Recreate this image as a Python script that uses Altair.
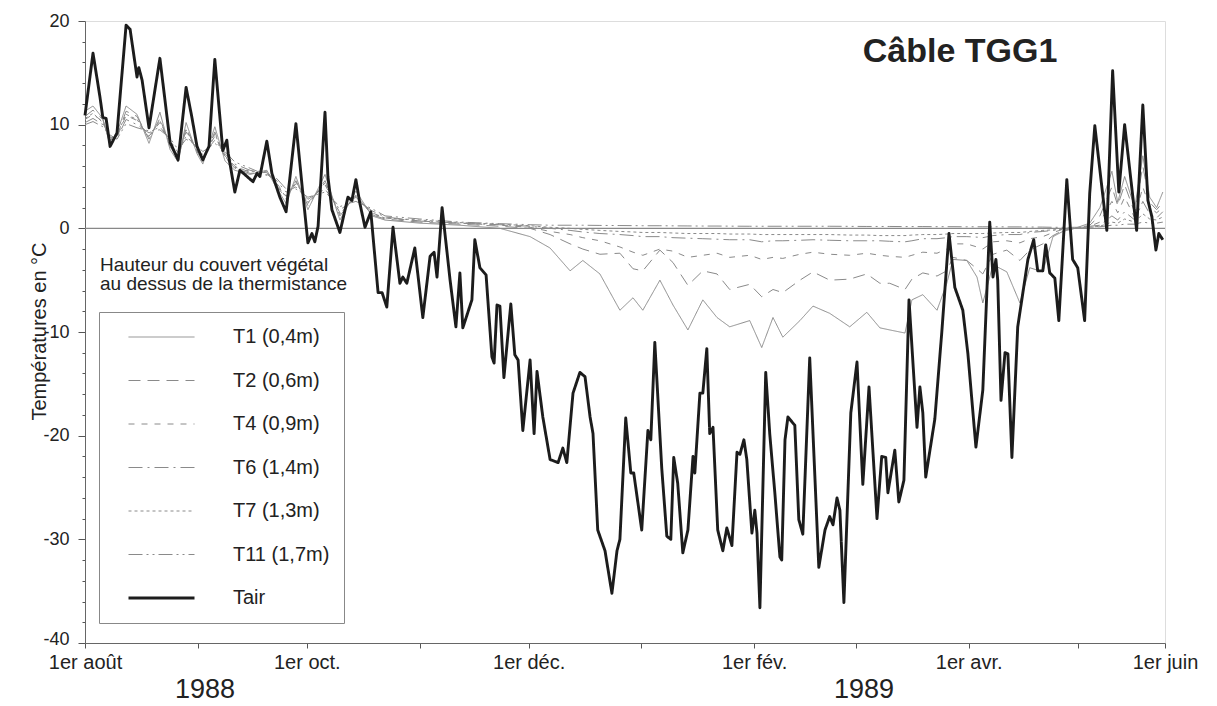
import altair as alt
import pandas as pd

FONT = "Liberation Sans, Arial, Helvetica, sans-serif"

series_names = ["T1 (0,4m)", "T2 (0,6m)", "T4 (0,9m)", "T6 (1,4m)", "T7 (1,3m)", "T11 (1,7m)", "Tair"]

# ---- Tair (days since 1 Aug 1988, deg C) ----
tair_days = [0.0, 2.2, 4.1, 4.9, 5.8, 6.9, 8.8, 11.3, 12.4, 14.3, 14.8, 15.7, 17.6, 20.6, 23.4, 25.6, 27.8,
             29.4, 30.8, 32.4, 34.1, 35.7, 37.9, 39.0, 39.4, 41.2, 42.6, 46.2, 47.3, 48.1, 50.0, 51.4, 53.6,
             55.3, 58.0, 59.9, 61.3, 62.4, 63.2, 64.1, 66.0, 66.8, 67.9, 70.1, 72.3, 73.4, 74.5, 75.6, 77.0,
             78.6, 80.6, 81.7, 83.0, 84.7, 86.6, 87.4, 88.5, 90.7, 92.9, 94.9, 96.0, 96.8, 98.2, 100.4, 102.0,
             103.1, 103.9, 106.4, 107.2, 108.6, 110.3, 111.9, 112.5, 113.3, 114.1, 115.2, 117.1, 118.2, 119.1,
             120.4, 122.4, 123.5, 124.3, 125.9, 127.9, 130.1, 131.4, 132.5, 134.2, 136.1, 137.5, 138.9, 139.7,
             141.0, 143.0, 144.9, 146.3, 147.1, 148.7, 150.1, 150.9, 153.1, 154.8, 155.6, 156.7, 158.6, 160.0,
             161.1, 161.9, 163.0, 164.4, 165.8, 167.2, 167.7, 169.1, 169.9, 171.0, 171.8, 172.7, 174.0, 175.4,
             176.5, 177.9, 179.3, 180.1, 181.2, 182.0, 183.4, 184.2, 184.8, 185.6, 187.2, 188.3, 189.7, 191.1,
             191.6, 192.5, 193.3, 195.2, 196.3, 197.4, 199.3, 201.8, 203.5, 204.8, 205.7, 206.8, 207.6, 208.7,
             210.6, 212.3, 213.9, 215.6, 217.8, 219.1, 220.2, 220.8, 222.7, 223.8, 225.2, 226.6, 228.8, 229.6,
             230.4, 231.2, 233.7, 235.6, 237.6, 239.2, 241.4, 242.8, 245.0, 246.9, 248.8, 249.7, 250.5, 251.0,
             251.9, 253.0, 253.8, 254.9, 256.5, 259.3, 260.9, 262.0, 263.4, 264.2, 265.3, 266.7, 267.8, 270.0,
             271.6, 273.0, 274.9, 276.3, 277.7, 281.0, 282.6, 284.3, 285.9, 289.2, 290.9, 292.3, 293.4, 294.5,
             295.3, 296.4]
tair_vals = [10.9, 16.9, 12.7, 10.7, 10.6, 7.9, 9.2, 19.6, 19.2, 14.6, 15.5, 14.3, 9.7, 16.4, 8.3, 6.6, 13.6,
             10.7, 7.9, 6.6, 7.9, 16.3, 7.5, 8.5, 7.2, 3.5, 5.6, 4.5, 5.3, 5.0, 8.4, 5.3, 3.0,
             1.6, 10.1, 3.4, -1.4, -0.5, -1.3, 0.2, 11.2, 5.0, 1.8, -0.4, 3.0, 2.7, 4.7, 2.4, 0.1,
             1.6, -6.2, -6.2, -7.6, 0.1, -5.3, -4.7, -5.3, -1.9, -8.6, -2.7, -2.3, -4.7, 2.0, -5.0, -9.5,
             -4.3, -9.6, -6.9, -1.1, -3.8, -4.5, -12.4, -13.0, -7.4, -7.5, -14.4, -7.3, -12.2, -12.7,
             -19.5, -12.7, -19.8, -13.8, -18.2, -22.3, -22.6, -21.2, -22.6, -15.9, -13.9, -14.3, -18.2, -19.8,
             -29.1, -31.1, -35.2, -31.1, -30.0, -18.3, -23.6, -23.6, -29.1, -19.5, -20.4, -11.0, -23.1, -29.7,
             -30.0, -22.1, -24.6, -31.3, -29.1, -22.0, -23.6, -15.9, -15.9, -11.6, -19.8, -19.2, -29.1, -31.1,
             -28.9, -30.6, -21.6, -21.8, -20.4, -22.3, -29.4, -27.2, -29.4, -36.6, -13.9, -19.8, -25.5, -31.7,
             -32.0, -20.4, -18.2, -19.0, -28.1, -29.5, -12.5, -32.7, -29.1, -27.8, -28.6, -26.0, -27.2, -36.1,
             -17.8, -12.9, -24.7, -15.3, -28.0, -22.0, -22.1, -25.5, -21.4, -26.4, -24.3, -6.9, -19.2, -15.3,
             -17.8, -24.0, -18.4, -10.1, -0.5, -5.7, -7.9, -12.1, -21.1, -15.6, 0.6, -4.7, -3.0, -5.0,
             -16.6, -12.0, -12.1, -22.1, -9.5, -3.0, -1.1, -4.1, -4.1, -1.6, -4.3, -4.8, -8.9, 4.7,
             -3.0, -3.8, -8.9, 3.4, 9.9, -0.2, 15.2, 3.5, 10.0, -0.2, 11.9, 2.7, 1.1, -2.1,
             -0.5, -1.1]

# ---- thermistors, on a common day grid ----
grid_days = [0.0, 2.2, 4.9, 6.9, 8.8, 11.3, 14.3, 17.6, 20.6, 23.4, 25.6, 27.8, 30.8, 32.4, 35.7, 38.5,
             41.2, 45.4, 50.0, 52.2, 55.3, 58.0, 61.3, 66.0, 70.1, 74.5, 78.9, 82.5,
             92.1, 103.1, 114.1, 122.4, 127.9, 133.4, 136.9, 141.6, 147.1, 150.7, 153.4, 158.1, 161.7, 165.8,
             169.9, 173.8, 177.3, 182.8, 186.1, 189.2, 191.9, 196.6, 200.2, 204.8, 210.3, 215.0, 218.6, 221.3,
             225.5, 227.4, 230.4, 234.3, 237.0, 238.7, 242.5, 245.3, 246.9, 249.7, 253.5, 257.1, 259.8, 263.4,
             266.2, 268.9, 272.2,
             276.3, 279.1, 282.4, 284.0, 285.9, 288.7, 290.9, 292.8, 294.7, 296.4]

t1_vals = [11.3, 11.8, 10.6, 8.0, 9.2, 11.8, 11.0, 8.2, 11.2, 7.6, 6.4, 10.2, 7.2, 6.2, 9.8, 6.5,
           5.6, 5.2, 5.6, 4.2, 2.4, 5.0, 1.8, 5.2, 0.8, 3.6, 1.2, 0.8,
           0.5, 0.3, 0.0, -0.8, -1.9, -4.1, -3.1, -4.4, -7.9, -6.7, -7.9, -5.0, -7.4, -9.8,
           -6.9, -8.6, -9.5, -8.9, -11.5, -8.6, -10.5, -8.9, -7.5, -8.2, -9.5, -8.1, -9.6, -9.8,
           -10.1, -6.9, -6.4, -7.9, -5.3, -3.0, -3.1, -4.7, -7.2, -3.5, -4.2, -7.2, -3.8, -4.2,
           -0.8, -0.3, 0.0,
           0.5, 2.0, 5.5, 2.5, 5.0, 2.0, 7.0, 3.0, 2.0, 3.5]
t2_vals = [10.8, 11.4, 10.5, 8.2, 8.9, 11.3, 10.8, 8.6, 10.6, 7.9, 6.7, 9.7, 7.4, 6.5, 9.3, 6.8,
           5.8, 5.3, 5.4, 4.4, 2.8, 4.6, 2.2, 4.6, 1.2, 3.2, 1.3, 0.9,
           0.6, 0.4, 0.2, 0.0, -0.6, -1.5, -2.0, -2.5, -2.4, -3.9, -4.1, -2.1, -3.3, -5.5,
           -4.1, -4.4, -5.9, -5.4, -6.6, -5.9, -6.2, -5.0, -4.2, -5.0, -4.9, -4.4, -5.3, -5.3,
           -5.9, -4.9, -4.3, -4.6, -4.1, -2.8, -3.1, -3.9, -4.4, -2.5, -2.1, -3.1, -2.1, -1.5,
           -0.7, -0.2, 0.0,
           0.3, 1.2, 4.0, 2.2, 4.2, 1.5, 6.0, 2.5, 1.8, 2.5]
t4_vals = [10.5, 11.0, 10.3, 8.5, 8.8, 10.9, 10.4, 8.9, 10.2, 8.2, 7.0, 9.3, 7.6, 6.8, 8.9, 7.0,
           6.0, 5.4, 5.3, 4.6, 3.1, 4.3, 2.5, 4.2, 1.5, 3.0, 1.5, 1.0,
           0.7, 0.5, 0.3, 0.1, -0.3, -0.6, -0.9, -1.2, -1.8, -2.3, -2.6, -2.0, -2.2, -2.8,
           -2.6, -2.4, -2.8, -2.6, -3.0, -2.8, -2.9, -2.5, -2.3, -2.5, -2.6, -2.4, -2.6, -2.7,
           -2.8, -2.6, -2.3, -2.4, -2.0, -1.5, -1.5, -1.8, -2.0, -1.3, -1.2, -1.4, -1.0, -0.8,
           -0.4, -0.1, 0.0,
           0.2, 0.6, 2.6, 1.5, 3.0, 1.0, 4.0, 2.0, 1.5, 2.0]
t6_vals = [10.2, 10.6, 10.0, 8.8, 8.7, 10.5, 10.0, 9.2, 9.8, 8.5, 7.3, 8.9, 7.8, 7.1, 8.5, 7.2,
           6.2, 5.6, 5.2, 4.8, 3.5, 4.0, 2.8, 3.8, 1.8, 2.8, 1.7, 1.1,
           0.7, 0.5, 0.35, 0.2, 0.0, -0.2, -0.35, -0.5, -0.6, -0.7, -0.8, -0.8, -0.9, -0.95,
           -1.0, -1.05, -1.1, -1.1, -1.3, -1.2, -1.2, -1.15, -1.1, -1.15, -1.2, -1.2, -1.2, -1.25,
           -1.3, -1.2, -1.0, -1.0, -0.9, -0.8, -0.8, -0.85, -0.9, -0.7, -0.6, -0.6, -0.4, -0.3,
           -0.2, 0.0, 0.0,
           0.2, 0.3, 1.2, 0.8, 1.6, 0.8, 2.6, 1.4, 1.0, 1.6]
t7_vals = [10.6, 11.1, 10.2, 8.6, 9.0, 11.0, 10.5, 8.8, 10.4, 8.1, 6.9, 9.5, 7.5, 6.7, 9.1, 6.9,
           5.9, 5.5, 5.5, 4.5, 3.0, 4.5, 2.4, 4.4, 1.4, 3.1, 1.4, 1.0,
           0.8, 0.55, 0.4, 0.25, 0.1, 0.0, -0.1, -0.2, -0.3, -0.35, -0.4, -0.4, -0.45, -0.5,
           -0.5, -0.5, -0.55, -0.55, -0.6, -0.6, -0.6, -0.6, -0.6, -0.6, -0.65, -0.65, -0.7, -0.7,
           -0.7, -0.65, -0.6, -0.6, -0.55, -0.5, -0.5, -0.5, -0.5, -0.45, -0.4, -0.4, -0.3, -0.2,
           -0.15, -0.1, 0.0,
           0.1, 0.2, 0.6, 0.5, 0.9, 0.6, 1.4, 0.9, 0.8, 1.1]
t11_vals = [10.0, 10.3, 9.8, 9.0, 8.6, 10.1, 9.7, 9.4, 9.5, 8.7, 7.6, 8.6, 8.0, 7.4, 8.2, 7.4,
            6.4, 5.8, 5.1, 5.0, 3.8, 3.8, 3.0, 3.5, 2.1, 2.6, 1.9, 1.2,
            0.9, 0.6, 0.45, 0.35, 0.3, 0.3, 0.3, 0.28, 0.27, 0.26, 0.25, 0.25, 0.24, 0.23,
            0.22, 0.22, 0.21, 0.2, 0.2, 0.2, 0.2, 0.2, 0.2, 0.2, 0.19, 0.18, 0.18, 0.18,
            0.17, 0.17, 0.17, 0.16, 0.16, 0.16, 0.15, 0.15, 0.15, 0.15, 0.14, 0.14, 0.13, 0.12,
            0.1, 0.1, 0.1,
            0.1, 0.15, 0.3, 0.3, 0.4, 0.4, 0.6, 0.5, 0.5, 0.6]

# ---- axis ticks ----
tick_dates = [(1988, 8, 1), (1988, 9, 1), (1988, 10, 1), (1988, 11, 1), (1988, 12, 1), (1989, 1, 1),
              (1989, 2, 1), (1989, 3, 1), (1989, 4, 1), (1989, 5, 1), (1989, 5, 25)]
tick_labels = ["1er août", "", "1er oct.", "", "1er déc.", "", "1er fév.", "", "1er avr.", "", "1er juin"]
y_ticks = list(range(-40, 21, 2))
year_labels = ["1988", "1989"]

base = pd.Timestamp("1988-08-01")


def iso(days):
    return [(base + pd.Timedelta(days=float(d))).strftime("%Y-%m-%dT%H:%M:%SZ") for d in days]


rows = []
for name, vals in zip(series_names[:-1], [t1_vals, t2_vals, t4_vals, t6_vals, t7_vals, t11_vals]):
    for d, v in zip(iso(grid_days), vals):
        rows.append({"date": d, "temp": v, "serie": name})
for d, v in zip(iso(tair_days), tair_vals):
    rows.append({"date": d, "temp": v, "serie": "Tair"})
df = pd.DataFrame(rows)

tick_ms = [int(pd.Timestamp(year=y, month=m, day=dd, tz="UTC").value // 10**6) for (y, m, dd) in tick_dates]
label_expr = "[" + ",".join("'" + s + "'" for s in tick_labels) + "][indexof([" + \
    ",".join(str(t) for t in tick_ms) + "], +datum.value)]"

dash_range = [[1, 0], [12, 7], [6, 7], [14, 5, 2, 5], [3, 3], [14, 4, 2, 4, 2, 4], [1, 0]]
color_range = ["#8a8a8a"] * 6 + ["#1c1c1c"]
width_range = [1, 1, 1, 1, 1, 1, 2.9]

legend = alt.Legend(
    title=None, orient="none", legendX=14, legendY=291,
    symbolType="stroke", symbolSize=4356, clipHeight=22, rowPadding=21.5,
    padding=14, labelOffset=37, symbolOffset=14,
    labelFont=FONT, labelFontSize=20, labelColor="#222",
    strokeColor="#888", fillColor="white",
)

x_scale = alt.Scale(type="utc", domain=[alt.DateTime(year=1988, month=8, date=1, utc=True),
                                        alt.DateTime(year=1989, month=5, date=25, utc=True)])
x_axis = alt.Axis(
    title=None, grid=False,
    values=[alt.DateTime(year=y, month=m, date=dd, utc=True) for (y, m, dd) in tick_dates],
    labelExpr=label_expr, labelFlush=False, labelOverlap=False,
    tickSize=5, labelPadding=4, labelFont=FONT, labelFontSize=20, labelColor="#222",
    domainColor="#666", tickColor="#555",
)
y_scale = alt.Scale(domain=[-40, 20], nice=False, zero=False)
y_axis = alt.Axis(
    title="Températures en °C", grid=False, values=y_ticks,
    labelExpr="datum.value % 10 === 0 ? '' + datum.value : ''",
    tickSize={"condition": {"test": "datum.value % 10 === 0", "value": 7}, "value": 3},
    labelOffset={"condition": {"test": "datum.value === -40", "value": -4}, "value": 0},
    labelPadding=9, labelOverlap=False, labelFlush=False,
    labelFont=FONT, labelFontSize=18, labelColor="#222",
    titleFont=FONT, titleFontSize=20, titleFontWeight="normal", titleColor="#222",
    titleX=-46, titleY=310, titleBaseline="middle", titleAngle=270,
    domainColor="#666", tickColor="#555",
)

lines = alt.Chart(df).mark_line(interpolate="linear", strokeJoin="round").encode(
    x=alt.X("date:T", scale=x_scale, axis=x_axis),
    y=alt.Y("temp:Q", scale=y_scale, axis=y_axis),
    color=alt.Color("serie:N", scale=alt.Scale(domain=series_names, range=color_range), legend=legend),
    strokeDash=alt.StrokeDash("serie:N", scale=alt.Scale(domain=series_names, range=dash_range), legend=legend),
    strokeWidth=alt.StrokeWidth("serie:N", scale=alt.Scale(type="ordinal", domain=series_names, range=width_range),
                                legend=legend),
    detail="serie:N",
    order=alt.Order("date:T"),
)

zero = alt.Chart(pd.DataFrame({"temp": [0]})).mark_rule(color="#888", strokeWidth=1.2).encode(
    y=alt.Y("temp:Q", scale=y_scale, axis=y_axis)
)

title_txt = alt.Chart(pd.DataFrame({"t": ["Câble TGG1"]})).mark_text(
    font=FONT, fontSize=34, fontWeight="bold", color="#222", align="center", baseline="alphabetic"
).encode(x=alt.value(875), y=alt.value(41), text="t:N")

legend_title = alt.Chart(pd.DataFrame({"t": [["Hauteur du couvert végétal", "au dessus de la thermistance"]]})).mark_text(
    font=FONT, fontSize=19, color="#222", align="left", baseline="top", lineHeight=19
).encode(x=alt.value(15), y=alt.value(235), text="t")

years = alt.Chart(pd.DataFrame({"t": year_labels, "px": [120, 779]})).mark_text(
    font=FONT, fontSize=27, color="#222", align="center", baseline="middle"
).encode(x=alt.X("px:Q", scale=None), y=alt.value(669), text="t:N")

chart = alt.layer(zero, lines, title_txt, legend_title, years).properties(
    width=1080, height=622,
    padding={"left": 85, "top": 21, "right": 52, "bottom": 63},
    autosize=alt.AutoSizeParams(type="none"),
).configure_view(stroke="#666", strokeWidth=1).configure(background="white")

chart.save("out.html", embed_options={"renderer": "svg", "actions": False})
